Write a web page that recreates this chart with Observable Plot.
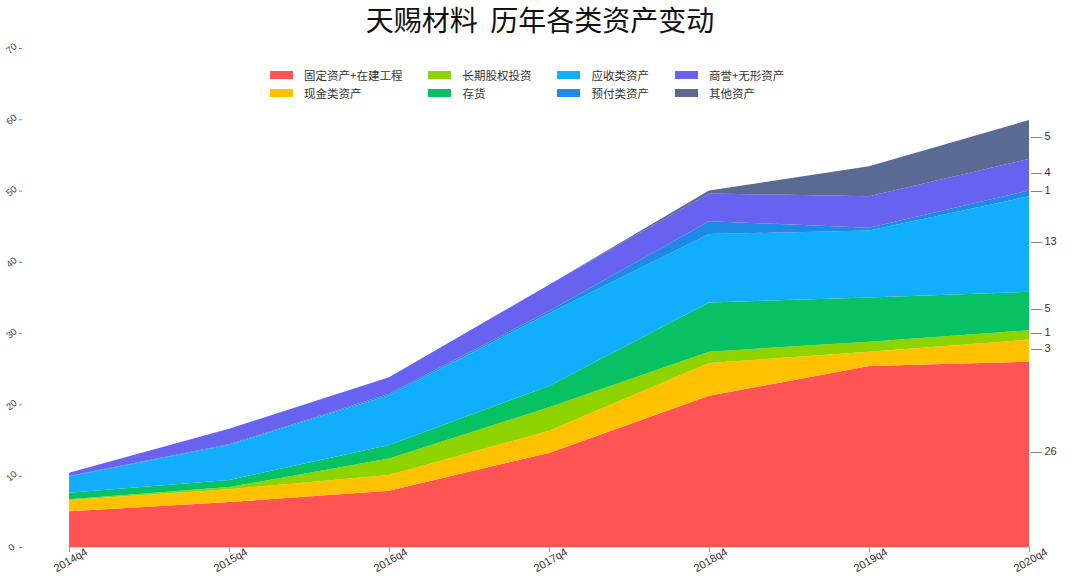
<!DOCTYPE html>
<html>
<head>
<meta charset="utf-8">
<script src="https://cdn.jsdelivr.net/npm/d3@7"></script>
<script src="https://cdn.jsdelivr.net/npm/@observablehq/plot@0.6"></script>
<style>
  html, body { margin: 0; padding: 0; background: #fff; }
  body { font-family: "Liberation Sans", "Noto Sans CJK SC", sans-serif; }
  #wrap { position: relative; width: 1080px; height: 580px; overflow: hidden; }
  #title { position: absolute; left: 0; top: 1px; width: 1080px; text-align: center; white-space: pre;
           font-size: 28px; line-height: 36px; color: #111; font-family: "Noto Sans CJK SC", sans-serif; }
  #legend { position: absolute; left: 270px; top: 67px; display: flex; gap: 26px;
            font-family: "Noto Sans CJK SC", sans-serif; font-size: 11.5px; color: #333; }
  .col { display: flex; flex-direction: column; gap: 2px; }
  .item { display: flex; align-items: center; height: 16px; }
  .sw { width: 23px; height: 8px; margin-right: 11px; flex: none; }
  #chart { position: absolute; left: 0; top: 0; }
</style>
</head>
<body>
<div id="wrap">
  <div id="chart"></div>
  <div id="title"></div>
  <div id="legend"></div>
</div>
<script>
const chartTitle = "天赐材料  历年各类资产变动";
const quarters = ["2014q4", "2015q4", "2016q4", "2017q4", "2018q4", "2019q4", "2020q4"];
const seriesNames = ["固定资产+在建工程", "现金类资产", "长期股权投资", "存货", "应收类资产", "预付类资产", "商誉+无形资产", "其他资产"];
const seriesColors = ["#ff5454", "#ffc100", "#8fd400", "#08c163", "#12aefe", "#1d8ae8", "#6762f0", "#5b6a92"];

const fixedAssets = [5.0, 6.3, 7.9, 13.2, 21.2, 25.4, 26.0];
const cashAssets  = [1.6, 1.8, 2.2, 3.1, 4.6, 2.0, 3.1];
const ltEquity    = [0.1, 0.3, 2.3, 3.3, 1.6, 1.4, 1.3];
const inventory   = [0.9, 1.0, 1.9, 3.0, 6.9, 6.2, 5.4];
const receivables = [2.3, 4.9, 7.0, 10.2, 9.6, 9.4, 13.4];
const prepaid     = [0.05, 0.1, 0.2, 0.3, 1.8, 0.4, 0.8];
const goodwill    = [0.45, 2.2, 2.3, 3.7, 3.9, 4.4, 4.45];
const otherAssets = [0, 0, 0, 0, 0.4, 4.2, 5.45];

const yTicks = [0, 10, 20, 30, 40, 50, 60, 70];

const seriesValues = [fixedAssets, cashAssets, ltEquity, inventory, receivables, prepaid, goodwill, otherAssets];

const table = seriesNames.flatMap((s, i) =>
  quarters.map((q, j) => ({quarter: q, series: s, value: seriesValues[i][j]})));

// end labels at last quarter (midpoints of stacked bands)
const lastIdx = quarters.length - 1;
let acc = 0;
const endLabels = seriesNames.map((s, i) => {
  const v = seriesValues[i][lastIdx];
  const mid = acc + v / 2;
  acc += v;
  return {quarter: quarters[lastIdx], mid, label: String(Math.round(v))};
});

const plot = Plot.plot({
  width: 1080,
  height: 580,
  marginLeft: 68,
  marginRight: 51,
  marginTop: 48,
  marginBottom: 33,
  style: {fontFamily: "'Liberation Sans', 'Noto Sans CJK SC', sans-serif", background: "transparent"},
  x: {type: "point", domain: quarters, padding: 0},
  y: {domain: [0, 70]},
  color: {domain: seriesNames, range: seriesColors},
  marks: [
    Plot.areaY(table, {x: "quarter", y: "value", z: "series", fill: "series", order: seriesNames, curve: "linear"}),
    Plot.ruleY([0], {stroke: "#e9d6d6", strokeWidth: 1.2}),
    // x ticks and rotated labels
    Plot.axisX({ticks: quarters, label: null, text: null, tickSize: 5, stroke: "#999"}),
    Plot.axisX({ticks: quarters, label: null, tickSize: 0, tickPadding: 0,
      rotate: -30, textAnchor: "middle", dy: 9, dx: -1, fontSize: 11, fill: "#333"}),
    // y ticks and rotated labels, offset to the far left
    Plot.axisY({ticks: yTicks, label: null, text: null, tickSize: 3, dx: -46, stroke: "#888"}),
    Plot.axisY({ticks: yTicks, label: null, tickSize: 0, tickPadding: 0,
      rotate: -40, textAnchor: "middle", dx: -57, fontSize: 9.5, fill: "#444"}),
    Plot.text(endLabels, {x: "quarter", y: "mid", text: () => "\u2014", dx: 7, dy: -3, fill: "#666", fontSize: 11}),
    Plot.text(endLabels, {x: "quarter", y: "mid", text: "label", dx: 15, dy: -3, textAnchor: "start", fill: "#333", fontSize: 11})
  ]
});
document.getElementById("chart").appendChild(plot);

document.getElementById("title").textContent = chartTitle;

// legend: column-major, 2 rows
const legend = document.getElementById("legend");
for (let c = 0; c < seriesNames.length / 2; c++) {
  const col = document.createElement("div");
  col.className = "col";
  for (let r = 0; r < 2; r++) {
    const i = c * 2 + r;
    const item = document.createElement("div");
    item.className = "item";
    const sw = document.createElement("span");
    sw.className = "sw";
    sw.style.background = seriesColors[i];
    const t = document.createElement("span");
    t.textContent = seriesNames[i];
    item.appendChild(sw);
    item.appendChild(t);
    col.appendChild(item);
  }
  legend.appendChild(col);
}
</script>
</body>
</html>
